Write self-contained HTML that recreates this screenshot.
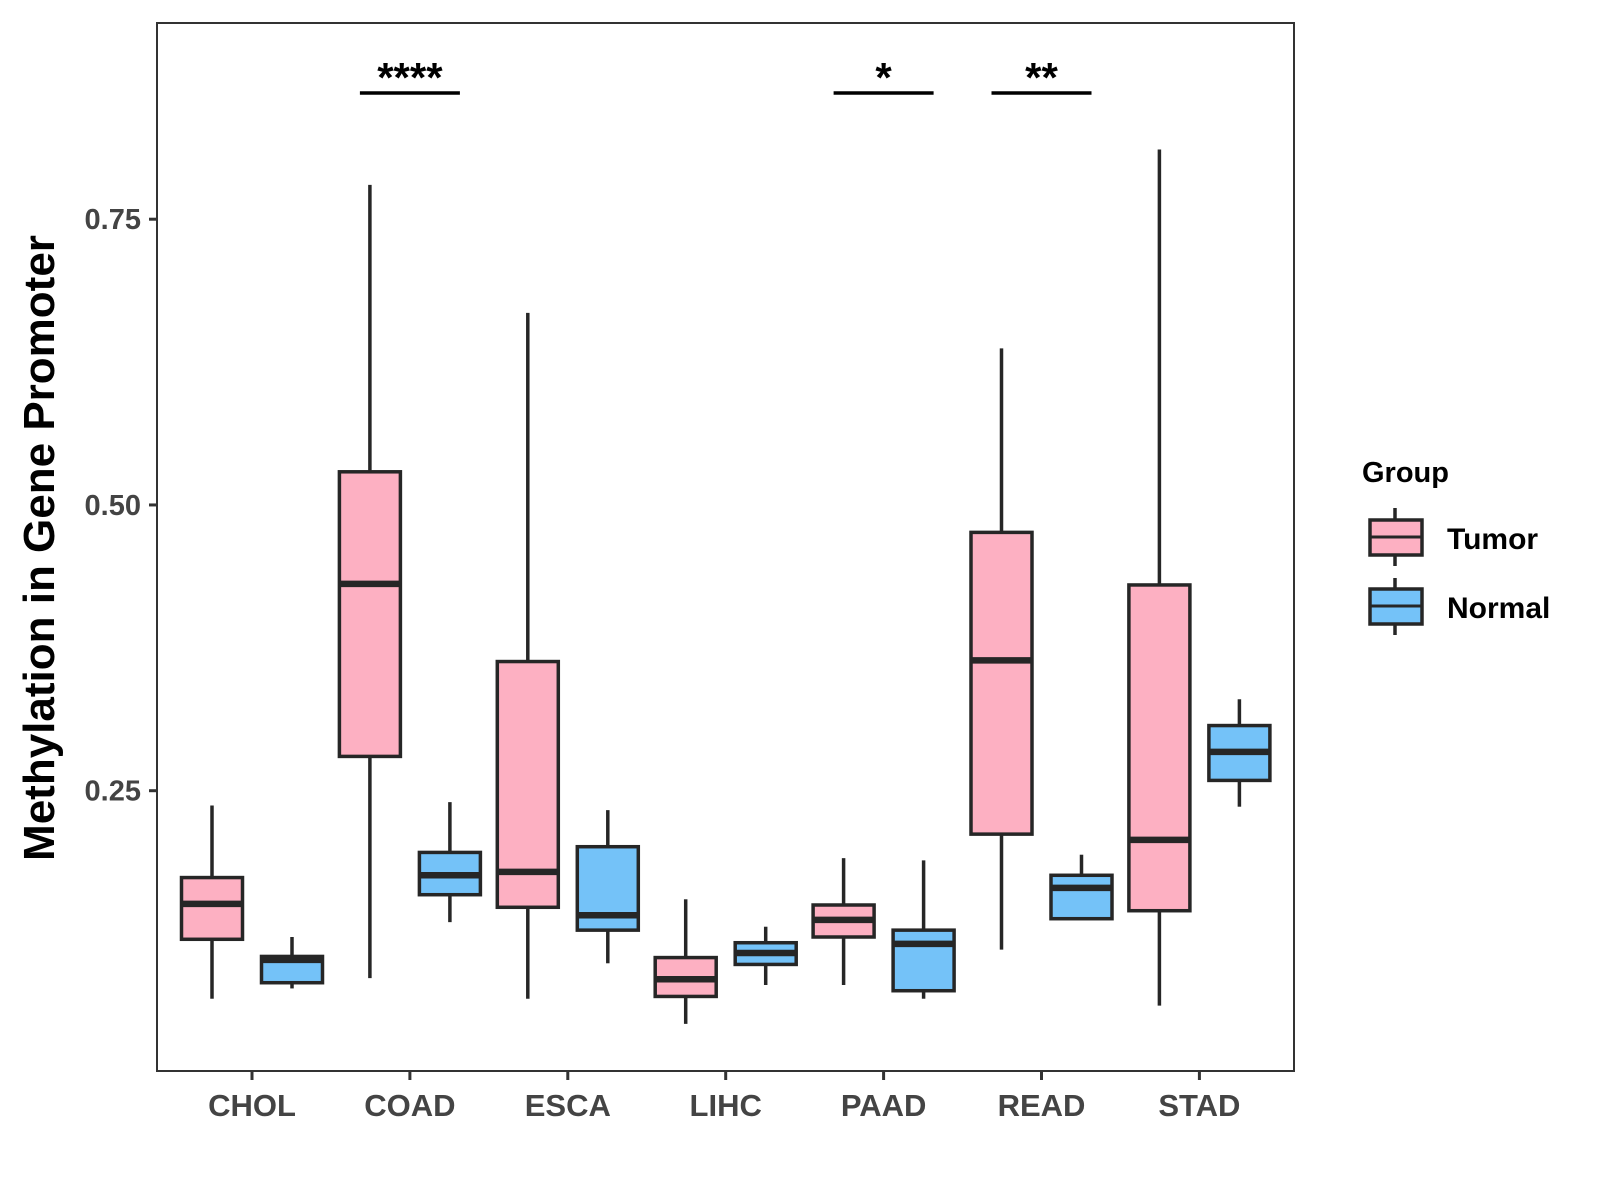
<!DOCTYPE html>
<html><head><meta charset="utf-8"><style>
html,body{margin:0;padding:0;background:#fff;}
svg{display:block;font-family:"Liberation Sans",Arial,sans-serif;}
</style></head><body>
<svg id="chart" width="1600" height="1200" viewBox="0 0 1600 1200" xmlns="http://www.w3.org/2000/svg">
<rect x="0" y="0" width="1600" height="1200" fill="#fff"/>
<g id="marks"></g>
<rect x="157" y="23" width="1137" height="1048" fill="none" stroke="#333" stroke-width="2"/>
<text transform="translate(54,548) rotate(-90)" text-anchor="middle" font-size="44" font-weight="bold" fill="#000">Methylation in Gene Promoter</text>
<g>
<text x="1362" y="482" font-size="29" font-weight="bold" fill="#000">Group</text>
<g>
<line x1="1395" y1="508" x2="1395" y2="566" stroke="#262626" stroke-width="3.5"/>
<rect x="1370" y="520" width="52" height="35" fill="#FDB0C2" stroke="#262626" stroke-width="3.5"/>
<line x1="1370" y1="537" x2="1422" y2="537" stroke="#262626" stroke-width="3"/>
<text x="1447" y="549" font-size="30" font-weight="bold" fill="#000">Tumor</text>
</g>
<g>
<line x1="1395" y1="578" x2="1395" y2="635" stroke="#262626" stroke-width="3.5"/>
<rect x="1370" y="589" width="52" height="35" fill="#74C2F8" stroke="#262626" stroke-width="3.5"/>
<line x1="1370" y1="606" x2="1422" y2="606" stroke="#262626" stroke-width="3"/>
<text x="1447" y="618" font-size="30" font-weight="bold" fill="#000">Normal</text>
</g>
</g>
</svg>
<script>
const categories = ["CHOL","COAD","ESCA","LIHC","PAAD","READ","STAD"];
const tumorLow = [0.068,0.086,0.068,0.046,0.080,0.111,0.062];
const tumorQ1  = [0.120,0.280,0.148,0.070,0.122,0.212,0.145];
const tumorMed = [0.151,0.431,0.179,0.085,0.137,0.364,0.207];
const tumorQ3  = [0.174,0.529,0.363,0.104,0.150,0.476,0.430];
const tumorHigh= [0.237,0.780,0.668,0.155,0.191,0.637,0.811];
const normalLow = [0.077,0.135,0.099,0.080,0.068,0.138,0.236];
const normalQ1  = [0.082,0.159,0.128,0.098,0.075,0.138,0.259];
const normalMed = [0.102,0.176,0.141,0.108,0.116,0.165,0.284];
const normalQ3  = [0.105,0.196,0.201,0.117,0.128,0.176,0.307];
const normalHigh= [0.122,0.240,0.233,0.131,0.189,0.194,0.330];
const yTicks = [0.25,0.50,0.75];
const yTickLabels = ["0.25","0.50","0.75"];
const sigCategories = ["COAD","PAAD","READ"];
const sigLabels = ["****","*","**"];

const NS="http://www.w3.org/2000/svg";
const svg=document.getElementById('marks');
function yScale(v){return 790.7-(v-0.25)*1143;}
function xScale(i){return 252+157.9*i;}
function el(tag,attrs,parent){const e=document.createElementNS(NS,tag);for(const k in attrs)e.setAttribute(k,attrs[k]);(parent||svg).appendChild(e);return e;}

yTicks.forEach((t,i)=>{
  const g=el('g',{});
  
  
  el('line',{x1:149,x2:157,y1:yScale(t),y2:yScale(t),stroke:'#333','stroke-width':3},g);
  const tx=el('text',{x:141,y:yScale(t)+10,'text-anchor':'end','font-size':29,'font-weight':'bold',fill:'#444'},g);
  tx.textContent=yTickLabels[i];
});
categories.forEach((c,i)=>{
  const g=el('g',{});
  
  
  el('line',{x1:xScale(i),x2:xScale(i),y1:1071,y2:1080,stroke:'#333','stroke-width':3},g);
  const tx=el('text',{x:xScale(i),y:1116,'text-anchor':'middle','font-size':31,'font-weight':'bold',fill:'#444'},g);
  tx.textContent=c;
});
function box(i,off,low,q1,med,q3,high,fill,name){
  const g=el('g',{});
  
  
  const cx=xScale(i)+off, w=61;
  el('line',{x1:cx,x2:cx,y1:yScale(high),y2:yScale(q3),stroke:'#262626','stroke-width':3.5},g);
  el('line',{x1:cx,x2:cx,y1:yScale(q1),y2:yScale(low),stroke:'#262626','stroke-width':3.5},g);
  el('rect',{x:cx-w/2,y:yScale(q3),width:w,height:Math.max(1,yScale(q1)-yScale(q3)),fill:fill,stroke:'#262626','stroke-width':3.5},g);
  el('line',{x1:cx-w/2,x2:cx+w/2,y1:yScale(med),y2:yScale(med),stroke:'#262626','stroke-width':6.5},g);
}
categories.forEach((c,i)=>{
  box(i,-40,tumorLow[i],tumorQ1[i],tumorMed[i],tumorQ3[i],tumorHigh[i],'#FDB0C2','box-'+c.toLowerCase()+'-tumor');
  box(i,40,normalLow[i],normalQ1[i],normalMed[i],normalQ3[i],normalHigh[i],'#74C2F8','box-'+c.toLowerCase()+'-normal');
});
sigCategories.forEach((c,k)=>{
  const i=categories.indexOf(c);
  const g=el('g',{});
  
  
  el('line',{x1:xScale(i)-50,x2:xScale(i)+50,y1:93,y2:93,stroke:'#000','stroke-width':3.5},g);
  const tx=el('text',{x:xScale(i),y:92,'text-anchor':'middle','font-size':42,'font-weight':'bold',fill:'#000'},g);
  tx.textContent=sigLabels[k];
});
</script>
</body></html>
